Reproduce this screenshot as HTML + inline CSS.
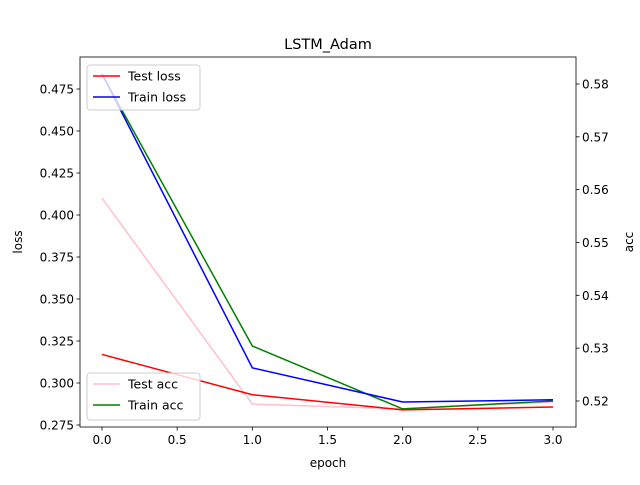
<!DOCTYPE html>
<html><head><meta charset="utf-8"><style>
body{margin:0;background:#fff;}
svg{font-family:"DejaVu Sans","Liberation Sans",sans-serif;}
</style></head><body>
<svg id="chart" width="640" height="480" xmlns="http://www.w3.org/2000/svg">
<rect width="640" height="480" fill="#fff"/>
<g id="plot"></g>
</svg>
<script>
const epochs=[0,1,2,3];
const testLoss=[0.317,0.293,0.284,0.2857];
const trainLoss=[0.484,0.309,0.2887,0.290];
const testAcc=[0.5584,0.5194,0.5185,0.5198];
const trainAcc=[0.5819,0.5304,0.5185,0.5200];
const xTicks=[0,0.5,1,1.5,2,2.5,3];
const yLeftTicks=[0.275,0.3,0.325,0.35,0.375,0.4,0.425,0.45,0.475];
const yRightTicks=[0.52,0.53,0.54,0.55,0.56,0.57,0.58];

const NS="http://www.w3.org/2000/svg";
const g=document.getElementById('plot');
const L=80,R=576,T=57,B=427;
const xs=v=>102+v*150.33;
const yl=v=>89+(0.475-v)*1680;
const yr=v=>84+(0.58-v)*5283;
function mk(tag,at,parent){const e=document.createElementNS(NS,tag);for(const k in at)e.setAttribute(k,at[k]);(parent||g).appendChild(e);return e;}
function txt(s,at){const e=mk('text',at);e.textContent=s;return e;}

function series(vals,yf,color,name){
  const p=mk('polyline',{points:vals.map((v,i)=>xs(epochs[i])+','+yf(v)).join(' '),fill:'none',stroke:color,'stroke-width':1.5});
  
  
}
series(testAcc,yr,'pink','test-acc-line');
series(trainAcc,yr,'green','train-acc-line');
series(testLoss,yl,'red','test-loss-line');
series(trainLoss,yl,'blue','train-loss-line');

const frame=mk('rect',{x:L,y:T,width:R-L,height:B-T,fill:'none',stroke:'#000','stroke-width':0.8});



xTicks.forEach(v=>{const x=xs(v);mk('line',{x1:x,x2:x,y1:B,y2:B+3.5,stroke:'#000','stroke-width':0.8});
  const t=txt(v.toFixed(1),{x:x,y:B+17,'font-size':12,'text-anchor':'middle'});
  });
yLeftTicks.forEach(v=>{const y=yl(v);mk('line',{x1:L-3.5,x2:L,y1:y,y2:y,stroke:'#000','stroke-width':0.8});
  const t=txt(v.toFixed(3),{x:L-6,y:y+4.5,'font-size':12,'text-anchor':'end'});
  });
yRightTicks.forEach(v=>{const y=yr(v);mk('line',{x1:R,x2:R+3.5,y1:y,y2:y,stroke:'#000','stroke-width':0.8});
  const t=txt(v.toFixed(2),{x:R+6,y:y+4.5,'font-size':12,'text-anchor':'start'});
  });

let t;
t=txt('LSTM_Adam',{x:328,y:49,'font-size':14.5,'text-anchor':'middle'});

t=txt('epoch',{x:328,y:467,'font-size':12,'text-anchor':'middle'});

t=txt('loss',{x:22,y:242,'font-size':12,'text-anchor':'middle',transform:'rotate(-90 22 242)'});

t=txt('acc',{x:633,y:242,'font-size':12,'text-anchor':'middle',transform:'rotate(-90 633 242)'});


function legend(x,y,h,items,name){
  const b=mk('rect',{x:x,y:y,width:113,height:h,rx:3,fill:'#fff','fill-opacity':0.8,stroke:'#ccc','stroke-width':1});
  
  items.forEach((it,i)=>{const cy=y+11+i*21;
    const l=mk('line',{x1:x+6,x2:x+33,y1:cy,y2:cy,stroke:it[1],'stroke-width':1.5});
    
    const tt=txt(it[0],{x:x+41,y:cy+4.5,'font-size':12.5});
    });
}
legend(87,65,45,[['Test loss','red'],['Train loss','blue']],'legend-loss');
legend(87,373,47,[['Test acc','pink'],['Train acc','green']],'legend-acc');
</script>
</body></html>
